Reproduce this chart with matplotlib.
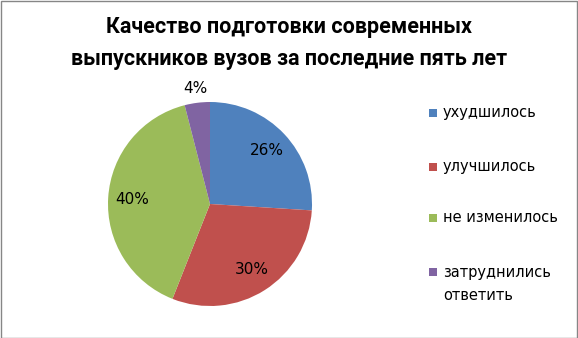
import matplotlib.pyplot as plt
from matplotlib.patches import Rectangle

# Données du graphique
categories = ["ухудшилось", "улучшилось", "не изменилось", "затруднились\nответить"]
valeurs = [26, 30, 40, 4]
couleurs = ["#4F81BD", "#C0504D", "#9BBB59", "#8064A2"]
titre = "Качество подготовки современных\nвыпускников вузов за последние пять лет"

W, H = 578, 338
fig = plt.figure(figsize=(W / 100, H / 100), dpi=100)

# axe du camembert : centre (210, 204), rayon 102 px
cx, cy, r = 210, 204, 102
ax = fig.add_axes([(cx - r) / W, (H - cy - r) / H, 2 * r / W, 2 * r / H])
wedges, textes, pcts = ax.pie(
    valeurs,
    colors=couleurs,
    startangle=90,
    counterclock=False,
    autopct="%d%%",
    pctdistance=0.76,
    textprops={"fontsize": 11, "color": "black"},
    wedgeprops={"linewidth": 0},
)
# le dernier pourcentage (4%) est placé à l'extérieur
x, y = pcts[-1].get_position()
pcts[-1].set_position((x * 1.5, y * 1.5))
ax.set_xlim(-1, 1)
ax.set_ylim(-1, 1)
ax.axis("off")

fig.text(0.5, 1 - 43 / H, titre, ha="center", va="center",
         fontsize=15.5, fontweight="bold", linespacing=1.55,
         family="Roboto")

# légende dessinée à la main (marqueur aligné sur la première ligne)
ys = [113, 167, 218, 272]
for lbl, c, yy in zip(categories, couleurs, ys):
    fig.patches.append(Rectangle((429 / W, (H - yy - 4) / H), 8 / W, 8 / H,
                                 transform=fig.transFigure, facecolor=c,
                                 edgecolor="none"))
    fig.text(443 / W, (H - yy + 7.5) / H, lbl, ha="left", va="top",
             fontsize=10.5, linespacing=1.75)

# cadre gris autour du graphique
fig.patches.append(Rectangle((0.5 / W, 0.5 / H), 1 - 1.5 / W, 1 - 1.5 / H,
                             transform=fig.transFigure, fill=False,
                             edgecolor="#868686", linewidth=1))

fig.savefig("out.png", dpi=100)
